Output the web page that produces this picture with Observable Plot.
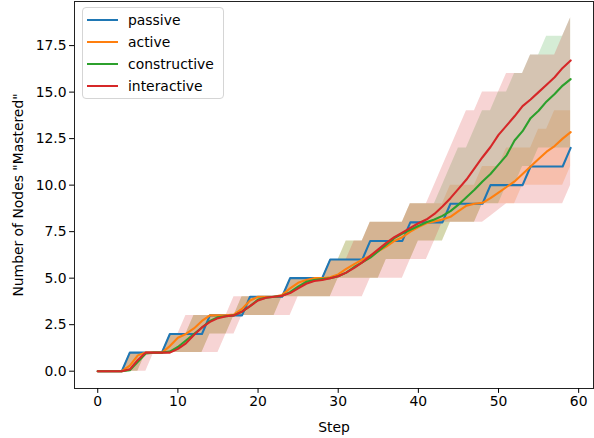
<!DOCTYPE html>
<html><head><meta charset="utf-8">
<script src="https://cdn.jsdelivr.net/npm/d3@7"></script>
<script src="https://cdn.jsdelivr.net/npm/@observablehq/plot@0.6"></script>
<style>
body{margin:0;background:#fff;}
#wrap{position:relative;width:594px;height:438px;font-family:"DejaVu Sans",sans-serif;}
#legend{position:absolute;left:82px;top:7px;width:142px;height:92px;border:1px solid #d5d5d5;border-radius:4px;background:rgba(255,255,255,0.8);box-sizing:border-box;}
.row{position:absolute;left:0;height:20px;width:140px;}
.row .h{position:absolute;left:4px;width:31px;top:9px;height:0;border-top:2px solid;}
.row .t{position:absolute;left:45px;top:0;font-size:13.9px;line-height:20px;color:#000;white-space:nowrap;}
</style></head>
<body><div id="wrap"></div>
<script>
const steps = d3.range(0, 60);
const seriesNames = ["passive", "active", "constructive", "interactive"];
const seriesColors = ["#1f77b4", "#ff7f0e", "#2ca02c", "#d62728"];
const xTicks = [0, 10, 20, 30, 40, 50, 60];
const yTicks = [0, 2.5, 5, 7.5, 10, 12.5, 15, 17.5];

const passive = [0,0,0,0,1,1,1,1,1,2,2,2,2,2,3,3,3,3,3,4,4,4,4,4,5,5,5,5,5,6,6,6,6,6,7,7,7,7,7,8,8,8,8,8,9,9,9,9,9,10,10,10,10,10,11,11,11,11,11,12];
const active = [0,0,0,0,0.3,0.85,1,1,1,1.35, 1.8,2,2.3,2.7,3,3,3,3.05,3.35,3.8, 4,4,4,4.1,4.45,4.75,4.9,5,5,5.05, 5.2,5.5,5.75,6,6.2,6.45,6.7,7,7.2,7.5, 7.75,7.95,8.05,8.15,8.3,8.6,8.9,9,9.05,9.3, 9.6,9.9,10.2,10.6,11,11.4,11.8,12.1,12.5,12.85];
const constructive = [0,0,0,0,0.05,0.5,0.95,1,1,1.05, 1.3,1.65,2,2.35,2.7,2.9,2.95,3,3.2,3.5, 3.85,3.95,4,4.05,4.25,4.55,4.8,4.9,4.95,5, 5.1,5.3,5.6,5.85,6.1,6.45,6.8,7.15,7.4,7.6, 7.8,8,8.15,8.35,8.6,8.95,9.35,9.75,10.2,10.6, 11.1,11.6,12.4,12.9,13.6,14,14.5,14.9,15.35,15.7];
const interactive = [0,0,0,0,0.1,0.6,1,1,1,1, 1.2,1.5,1.95,2.35,2.65,2.85,2.95,3,3.2,3.5, 3.8,3.95,4,4.05,4.2,4.45,4.7,4.85,4.9,5, 5.1,5.3,5.55,5.85,6.2,6.55,6.9,7.2,7.45,7.7, 7.95,8.15,8.45,8.85,9.3,9.8,10.3,10.9,11.5,12.05, 12.7,13.2,13.7,14.25,14.6,15,15.4,15.8,16.3,16.7];

const activeLow = [0,0,0,0,0,0, 1,1,1,1,1,1,1,1, 2,2,2, 3,3,3,3,3,3, 4,4,4,4,4,4,4, 5,5,5,5,5,5, 6,6,6,6, 7,7,7,7, 8,8,8,8, 9,9,9,9,9, 10,10,10,10,10,10, 11];
const activeHigh = [0,0,0,0, 1,1,1,1,1, 2,2,2, 3,3,3,3,3,3, 4,4,4,4,4,4, 5,5,5,5,5, 6,6, 7,7,7, 8,8,8,8,8, 9,9,9,9,9, 10,10,10,10, 11,11,11, 12,12,12,12, 13,13, 14,14,14];
const constructiveLow = [0,0,0,0,0,0, 1,1,1,1,1,1,1,1, 2,2,2, 3,3,3,3,3,3, 4,4,4,4,4,4,4, 5,5,5,5,5,5, 6,6,6,6, 7,7,7,7, 8,8,8,8, 9,9,9, 10,10, 11,11, 12,12,12,12,12];
const constructiveHigh = [0,0,0,0, 1,1,1,1,1, 2,2,2, 3,3,3,3,3,3, 4,4,4,4,4,4, 5,5,5,5,5, 6,6, 7,7,7, 8,8,8,8,8, 9,9,9,9, 10, 11, 12,12, 13, 14,14, 15,15, 16,16, 17,17, 18,18,18, 19];
const interactiveLow = [0,0,0,0,0,0,0, 1,1,1,1,1,1,1,1,1, 2,2, 3,3,3,3,3,3,3, 4,4,4,4,4,4,4,4,4, 5,5,5,5,5, 6,6,6, 7, 8,8,8,8,8,8, 8.33, 8.67, 9,9,9,9,9,9,9,9, 10];
const interactiveHigh = [0,0,0,0, 1,1,1,1,1, 2,2, 3,3,3,3,3,3, 4,4,4,4,4,4,4, 5,5,5,5,5, 6,6,6, 7,7, 8,8,8,8,8, 9,9,9, 10,11,12,13, 14,14, 15,15,15, 16,16,16, 17,17,17,17, 18, 19];

const means = [passive, active, constructive, interactive];
const lows = [null, activeLow, constructiveLow, interactiveLow];
const highs = [null, activeHigh, constructiveHigh, interactiveHigh];

const bandMarks = [];
const lineMarks = [];
seriesNames.forEach((name, i) => {
  const rows = steps.map((s, j) => ({step: s, v: means[i][j], lo: lows[i] ? lows[i][j] : means[i][j], hi: highs[i] ? highs[i][j] : means[i][j]}));
  if (lows[i]) bandMarks.push(Plot.areaY(rows, {x: "step", y1: "lo", y2: "hi", fill: seriesColors[i], fillOpacity: 0.2}));
  lineMarks.push(Plot.line(rows, {x: "step", y: "v", stroke: seriesColors[i], strokeWidth: 2.1}));
});

const chart = Plot.plot({
  width: 594, height: 438,
  marginLeft: 74, marginRight: 1, marginTop: 1, marginBottom: 50,
  style: {fontFamily: "DejaVu Sans, sans-serif", fontSize: "13.9px", color: "#000", background: "white"},
  x: {domain: [-2.9, 61.85]},
  y: {domain: [-0.93, 19.87]},
  marks: [
    ...bandMarks,
    ...lineMarks,
    Plot.frame({stroke: "#222", strokeWidth: 1}),
    Plot.axisX({ticks: xTicks, tickSize: 4.9, tickPadding: 3, label: "Step", labelAnchor: "center", labelOffset: 43, fontSize: 13.9, labelArrow: "none"}),
    Plot.axisY({ticks: yTicks, tickFormat: d => d.toFixed(1), tickSize: 4.9, tickPadding: 3, label: 'Number of Nodes "Mastered"', labelAnchor: "center", labelOffset: 61, fontSize: 13.9, labelArrow: "none"})
  ]
});
const wrap = document.getElementById("wrap");
wrap.appendChild(chart);
const legend = document.createElement("div");
legend.id = "legend";
seriesNames.forEach((name, i) => {
  const row = document.createElement("div");
  row.className = "row";
  row.style.top = (2 + i * 22) + "px";
  const h = document.createElement("div"); h.className = "h"; h.style.borderTopColor = seriesColors[i];
  const t = document.createElement("div"); t.className = "t"; t.textContent = name;
  row.appendChild(h); row.appendChild(t); legend.appendChild(row);
});
wrap.appendChild(legend);
</script></body></html>
